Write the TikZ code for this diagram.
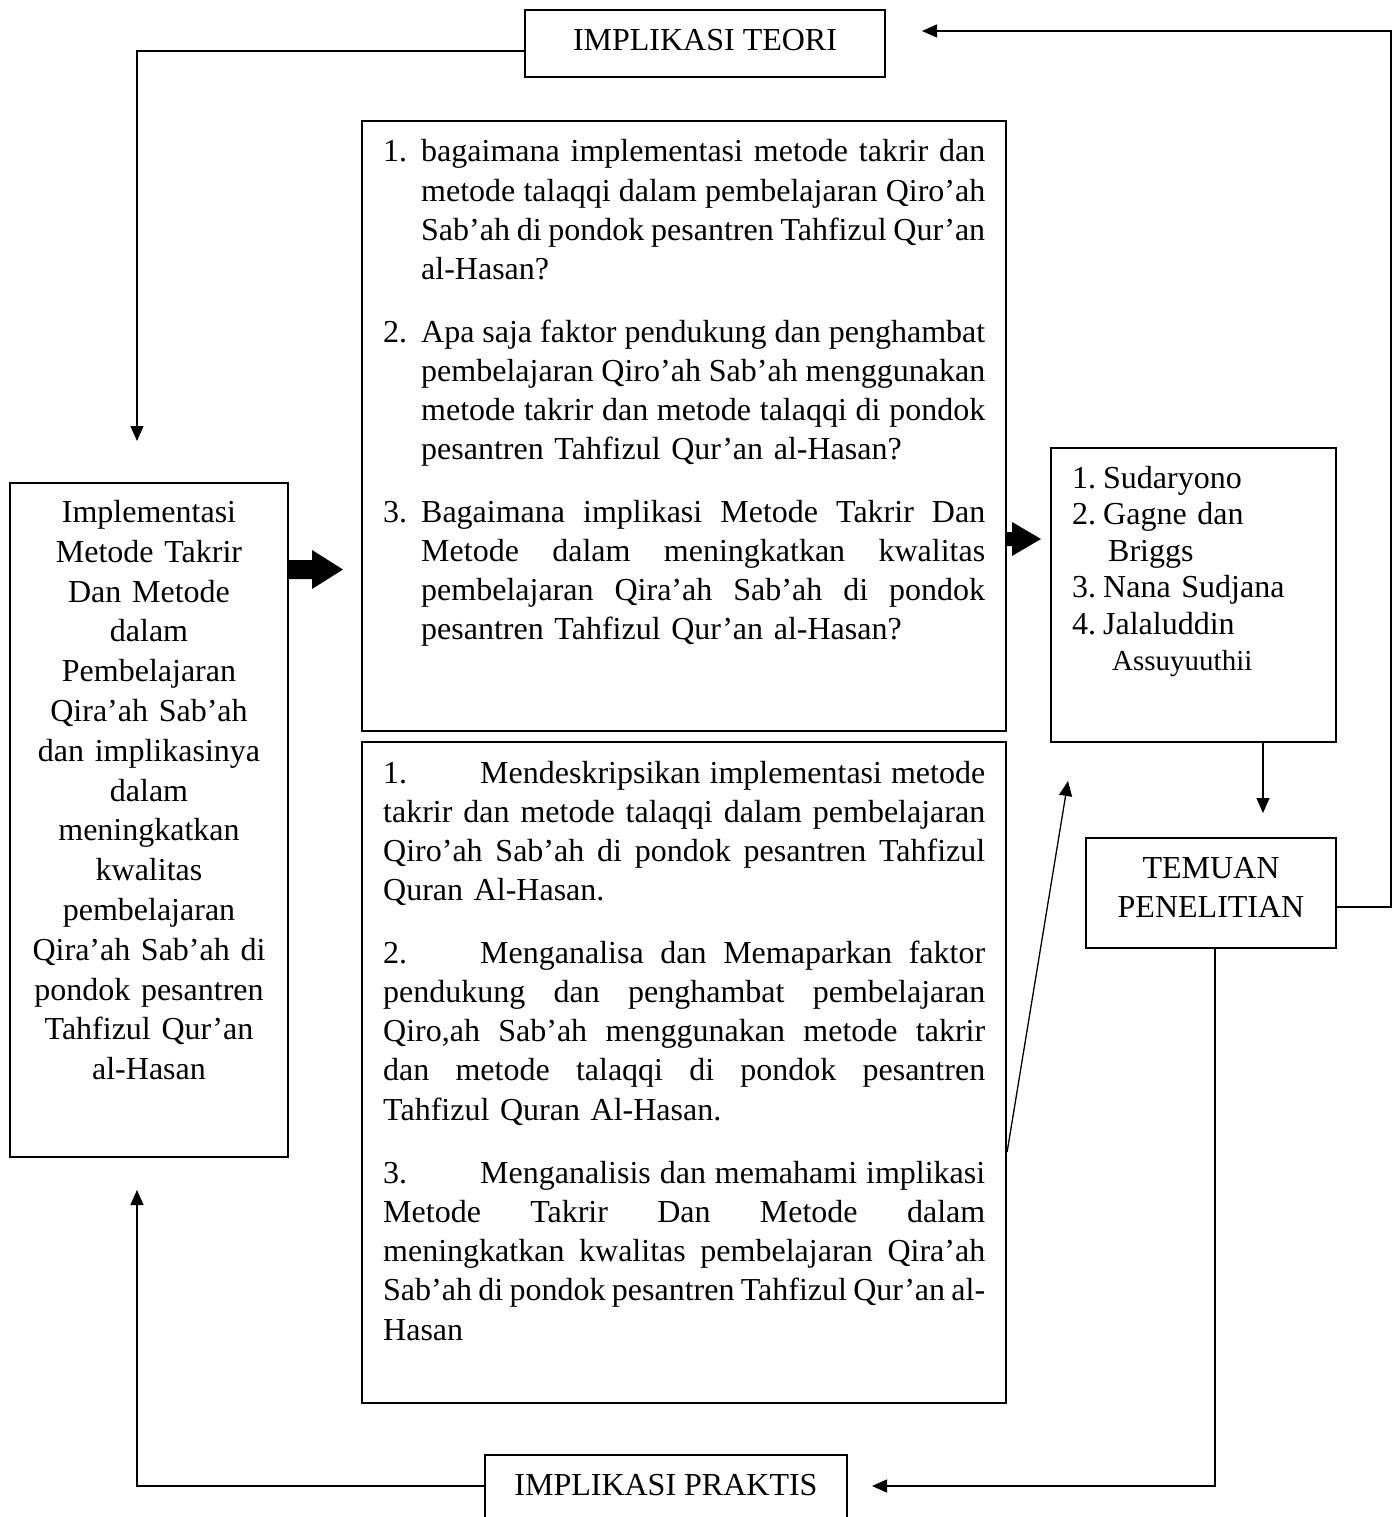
\documentclass[tikz,border=0pt]{standalone}
\usepackage{fontspec}
\setmainfont{Liberation Serif}
\usetikzlibrary{arrows.meta}
\newcommand\SetSpc{\spaceskip=8pt plus 16pt minus 3pt\relax\xspaceskip=\spaceskip}
\newcommand\JL[2]{\leavevmode\hbox to #1{\SetSpc #2}}
\newcommand\LB[2]{\leavevmode\hbox to #1{#2\hfil}}
\tikzset{
  box/.style={draw, line width=1.8pt, inner sep=0pt},
  bigbox/.style={draw, line width=2.2pt, inner sep=0pt},
  conn/.style={line width=1.3pt, -{Triangle[length=15pt,width=13pt]}},
  txt/.style={inner sep=0pt, font=\fontsize{32pt}{39.3pt}\selectfont\SetSpc},
  blockarrow/.style={fill=black},
}
\begin{document}
\begin{tikzpicture}[x=1pt, y=-1pt]
\useasboundingbox (0,0) rectangle (1397,1517);
\fill[white] (0,0) rectangle (1397,1517);
\clip (0,0) rectangle (1397,1517);

% boxes
\node[box, minimum width=360pt, minimum height=67pt] (teori) at (705,43.5) {};
\node[box, minimum width=278pt, minimum height=674pt] (topic) at (149,820) {};
\node[bigbox, minimum width=644pt, minimum height=610pt] (quest) at (684,426) {};
\node[bigbox, minimum width=644pt, minimum height=661pt] (obj) at (684,1072.5) {};
\node[box, minimum width=285pt, minimum height=294pt] (refs) at (1193.5,595) {};
\node[box, minimum width=250pt, minimum height=110pt] (temuan) at (1211,893) {};
\node[box, minimum width=362pt, minimum height=85pt] (praktis) at (666,1497.5) {};

% texts
\node[txt, anchor=base] (teoritext) at (705,50.5) {IMPLIKASI TEORI};
\node[txt, anchor=base] (praktistext) at (666,1495) {IMPLIKASI PRAKTIS};
\node[txt, text width=240pt, align=center, anchor=base, font=\fontsize{32pt}{39pt}\selectfont\SetSpc] (temuantext) at (1211,878) {TEMUAN\\PENELITIAN};

\node[txt, text width=278pt, align=center, anchor=base, font=\fontsize{32pt}{39.8pt}\selectfont\SetSpc] (topictext) at (149,522.5)
{Implementasi\\ Metode Takrir\\ Dan Metode\\ dalam\\ Pembelajaran\\ Qira’ah Sab’ah\\ dan implikasinya\\ dalam\\ meningkatkan\\ kwalitas\\ pembelajaran\\ Qira’ah Sab’ah di\\ pondok pesantren\\ Tahfizul Qur’an\\ al-Hasan};

\node[txt, text width=260pt, align=left, anchor=base west, font=\fontsize{32pt}{36.5pt}\selectfont\SetSpc] (reftext) at (1072,488)
{\LB{31pt}{1.}Sudaryono\\ \LB{31pt}{2.}Gagne dan\\ \hspace*{36pt}Briggs\\ \LB{31pt}{3.}Nana Sudjana\\ \LB{31pt}{4.}Jalaluddin\\ \hspace*{40pt}{\fontsize{29pt}{36.5pt}\selectfont Assuyuuthii}};

% questions
\node[txt, text width=602pt, anchor=base west] (q1) at (383,162)
{\LB{38pt}{1.}\JL{564pt}{bagaimana implementasi metode takrir dan}\\
\hspace*{38pt}\JL{564pt}{metode talaqqi dalam pembelajaran Qiro’ah}\\
\hspace*{38pt}\JL{564pt}{Sab’ah di pondok pesantren Tahfizul Qur’an}\\
\hspace*{38pt}al-Hasan?};
\node[txt, text width=602pt, anchor=base west] (q2) at (383,342)
{\LB{38pt}{2.}\JL{564pt}{Apa saja faktor pendukung dan penghambat}\\
\hspace*{38pt}\JL{564pt}{pembelajaran Qiro’ah Sab’ah menggunakan}\\
\hspace*{38pt}\JL{564pt}{metode takrir dan metode talaqqi di pondok}\\
\hspace*{38pt}pesantren Tahfizul Qur’an al-Hasan?};
\node[txt, text width=602pt, anchor=base west] (q3) at (383,522)
{\LB{38pt}{3.}\JL{564pt}{Bagaimana implikasi Metode Takrir Dan}\\
\hspace*{38pt}\JL{564pt}{Metode dalam meningkatkan kwalitas}\\
\hspace*{38pt}\JL{564pt}{pembelajaran Qira’ah Sab’ah di pondok}\\
\hspace*{38pt}pesantren Tahfizul Qur’an al-Hasan?};

% objectives
\node[txt, text width=602pt, anchor=base west] (o1) at (383,783)
{\JL{602pt}{\LB{97pt}{1.}Mendeskripsikan implementasi metode}\\
\JL{602pt}{takrir dan metode talaqqi dalam pembelajaran}\\
\JL{602pt}{Qiro’ah Sab’ah di pondok pesantren Tahfizul}\\
Quran Al-Hasan.};
\node[txt, text width=602pt, anchor=base west] (o2) at (383,963)
{\JL{602pt}{\LB{97pt}{2.}Menganalisa dan Memaparkan faktor}\\
\JL{602pt}{pendukung dan penghambat pembelajaran}\\
\JL{602pt}{Qiro,ah Sab’ah menggunakan metode takrir}\\
\JL{602pt}{dan metode talaqqi di pondok pesantren}\\
Tahfizul Quran Al-Hasan.};
\node[txt, text width=602pt, anchor=base west] (o3) at (383,1183)
{\JL{602pt}{\LB{97pt}{3.}Menganalisis dan memahami implikasi}\\
\JL{602pt}{Metode Takrir Dan Metode dalam}\\
\JL{602pt}{meningkatkan kwalitas pembelajaran Qira’ah}\\
\JL{602pt}{Sab’ah di pondok pesantren Tahfizul Qur’an al-}\\
Hasan};

% block arrows
\fill[blockarrow] (topic.east |- 0,560) -- (312,560) -- (312,550) -- (343,569.5) -- (312,589) -- (312,579) -- (topic.east |- 0,579) -- cycle;
\fill[blockarrow] (quest.east |- 0,532) -- (1012,532) -- (1012,522) -- (1041,539) -- (1012,556) -- (1012,546) -- (quest.east |- 0,546) -- cycle;

% connector coordinates
\coordinate (cA) at (137,51);
\coordinate (tA) at (137,441);
\coordinate (rB) at (1391,907);
\coordinate (cB) at (1391,31);
\coordinate (tB) at (922,31);
\coordinate (tC) at (1263,813);
\coordinate (cD) at (1215,1486);
\coordinate (tD) at (872,1486);
\coordinate (cE) at (137,1486);
\coordinate (tE) at (137,1190);
\coordinate (dF) at (1006,1152);
\coordinate (tF) at (1068,781);

% connectors
\draw[conn] (cA -| teori.west) -- (cA) -- (tA);
\draw[conn] (temuan.east |- rB) -- (rB) -- (cB) -- (tB);
\draw[conn] (refs.south -| tC) -- (tC);
\draw[conn] (temuan.south -| cD) -- (cD) -- (tD);
\draw[conn] (cE -| praktis.west) -- (cE) -- (tE);
\draw[conn] (obj.east |- dF) -- (tF);
\end{tikzpicture}
\end{document}
